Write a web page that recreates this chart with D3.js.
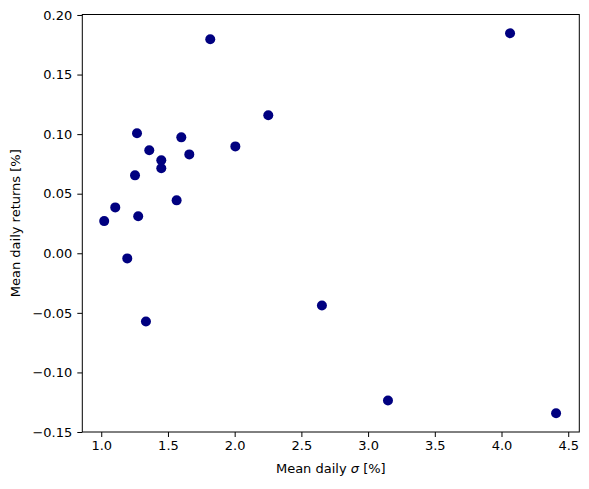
<!DOCTYPE html>
<html>
<head>
<meta charset="utf-8">
<script src="https://cdn.jsdelivr.net/npm/d3@7"></script>
<style>
  body { margin: 0; background: #fff; }
  svg { display: block; font-family: "DejaVu Sans", sans-serif; }
</style>
</head>
<body>
<div id="chart"></div>
<script>
// mean daily sigma [%] and mean daily return [%] per asset
const sigma = [1.817, 2.252, 1.268, 1.600, 1.360, 2.005, 1.660, 1.450, 1.450, 1.253,
               1.565, 1.105, 1.277, 1.022, 1.195, 1.335, 2.654, 3.149, 4.409, 4.064];
const returns = [0.1796, 0.1158, 0.1007, 0.0973, 0.0864, 0.0897, 0.0830, 0.0780, 0.0713, 0.0654,
                 0.0444, 0.0385, 0.0310, 0.0270, -0.0043, -0.0572, -0.0438, -0.1236, -0.1342, 0.1846];
const xTicks = [1.0, 1.5, 2.0, 2.5, 3.0, 3.5, 4.0, 4.5];
const yTicks = [-0.15, -0.10, -0.05, 0.00, 0.05, 0.10, 0.15, 0.20];

const width = 589, height = 489;
const m = { t: 14.5, r: 9.7, b: 57, l: 82.3 };

const svg = d3.select("#chart").append("svg")
  .attr("width", width)
  .attr("height", height);

const x = d3.scaleLinear()
  .domain([0.858, 4.583])
  .range([m.l, width - m.r]);

const y = d3.scaleLinear()
  .domain([-0.15, 0.2004])
  .range([height - m.b, m.t]);

const fmtMinus = f => d => f(d).replace("-", "\u2212");

const xAxis = svg.append("g")
  .attr("transform", `translate(0,${height - m.b})`)
  .call(d3.axisBottom(x).tickValues(xTicks).tickFormat(fmtMinus(d3.format(".1f"))).tickSize(5).tickPadding(4));

const yAxis = svg.append("g")
  .attr("transform", `translate(${m.l},0)`)
  .call(d3.axisLeft(y).tickValues(yTicks).tickFormat(fmtMinus(d3.format(".2f"))).tickSize(5).tickPadding(5));

[xAxis, yAxis].forEach(g => {
  g.select(".domain").remove();
  g.selectAll("text").attr("font-size", "13px").attr("fill", "#000")
    .attr("font-family", "DejaVu Sans, sans-serif");
  g.selectAll("line").attr("stroke", "#000").attr("stroke-width", 1);
});

// frame
svg.append("rect")
  .attr("x", m.l)
  .attr("y", m.t)
  .attr("width", width - m.r - m.l)
  .attr("height", height - m.b - m.t)
  .attr("fill", "none")
  .attr("stroke", "#000")
  .attr("stroke-width", 1);

svg.append("g")
  .selectAll("circle")
  .data(sigma.map((s, i) => [s, returns[i]]))
  .enter()
  .append("circle")
  .attr("cx", d => x(d[0]))
  .attr("cy", d => y(d[1]))
  .attr("r", 5)
  .attr("fill", "#000080");

const xl = svg.append("text")
  .attr("x", (m.l + width - m.r) / 2)
  .attr("y", 473)
  .attr("text-anchor", "middle")
  .attr("font-size", "13px");
xl.append("tspan").text("Mean daily ");
xl.append("tspan").attr("font-style", "italic").text("\u03c3");
xl.append("tspan").text(" [%]");

svg.append("text")
  .attr("transform", `translate(20,${(m.t + height - m.b) / 2}) rotate(-90)`)
  .attr("text-anchor", "middle")
  .attr("font-size", "13px")
  .text("Mean daily returns [%]");
</script>
</body>
</html>
